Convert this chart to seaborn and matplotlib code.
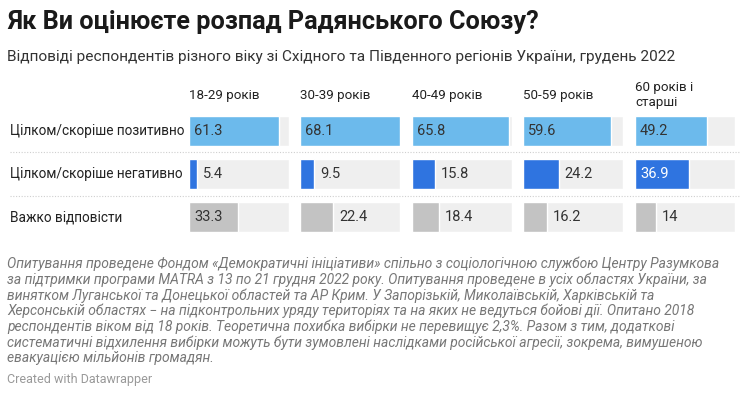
import matplotlib
matplotlib.use("Agg")
import matplotlib.pyplot as plt
from matplotlib.lines import Line2D
import seaborn as sns
import pandas as pd

sns.set_theme(style="white")
plt.rcParams['font.family'] = ['Roboto', 'DejaVu Sans']

# ---- data ----
age_groups = ["18-29 років", "30-39 років", "40-49 років", "50-59 років", "60 років і\nстарші"]
answers = ["Цілком/скоріше позитивно", "Цілком/скоріше негативно", "Важко відповісти"]
positive = [61.3, 68.1, 65.8, 59.6, 49.2]
negative = [5.4, 9.5, 15.8, 24.2, 36.9]
hard = [33.3, 22.4, 18.4, 16.2, 14]
value_labels = [["61.3", "68.1", "65.8", "59.6", "49.2"],
                ["5.4", "9.5", "15.8", "24.2", "36.9"],
                ["33.3", "22.4", "18.4", "16.2", "14"]]

title = "Як Ви оцінюєте розпад Радянського Союзу?"
subtitle = "Відповіді респондентів різного віку зі Східного та Південного регіонів України, грудень 2022"
note_lines = [
    "Опитування проведене Фондом «Демократичні ініціативи» спільно з соціологічною службою Центру Разумкова",
    "за підтримки програми MATRA з 13 по 21 грудня 2022 року. Опитування проведене в усіх областях України, за",
    "винятком Луганської та Донецької областей та АР Крим. У Запорізькій, Миколаївській, Харківській та",
    "Херсонській областях − на підконтрольних уряду територіях та на яких не ведуться бойові дії. Опитано 2018",
    "респондентів віком від 18 років. Теоретична похибка вибірки не перевищує 2,3%. Разом з тим, додаткові",
    "систематичні відхилення вибірки можуть бути зумовлені наслідками російської агресії, зокрема, вимушеною",
    "евакуацією мільйонів громадян.",
]
credit = "Created with Datawrapper"

bar_colors = ["#6cbaec", "#2f74e0", "#c3c3c3"]
label_colors = ["#333333", "#ffffff", "#333333"]
track_color = "#efefef"

W, H = 747, 395
fig = plt.figure(figsize=(W / 100, H / 100), dpi=100)
fig.patch.set_facecolor("white")

def fx(px):
    return px / W

def fy(py):
    return 1 - py / H

fig.text(fx(7), fy(22), title, fontsize=18.2, fontweight="bold", color="#1a1a1a", va="center", ha="left")
fig.text(fx(7), fy(57), subtitle, fontsize=11.1, color="#333333", va="center", ha="left")

col_left = [189, 300, 412, 523, 635]
col_w = 100
ax_top, ax_bot = 109.2, 238.8
row_centers = [130.7, 174.2, 217.2]
maxv = max(positive + negative + hard)

for r, ans in enumerate(answers):
    fig.text(fx(10), fy(row_centers[r]), ans, fontsize=9.8, color="#222222", va="center", ha="left")

series = [positive, negative, hard]
for c, grp in enumerate(age_groups):
    ax = fig.add_axes([fx(col_left[c]), fy(ax_bot), col_w / W, (ax_bot - ax_top) / H])
    df = pd.DataFrame({"answer": answers,
                       "value": [series[r][c] for r in range(3)],
                       "track": [maxv] * 3})
    sns.barplot(data=df, x="track", y="answer", color=track_color, width=0.69,
                orient="h", ax=ax, saturation=1)
    sns.barplot(data=df, x="value", y="answer", hue="answer", palette=bar_colors,
                width=0.69, orient="h", ax=ax, legend=False, saturation=1)
    ax.set_xlim(0, maxv)
    ax.set_ylim(2.5, -0.5)
    ax.axis("off")
    for r in range(3):
        v = series[r][c]
        if v >= 30:
            ax.text(maxv * 5 / col_w, r, value_labels[r][c], va="center", ha="left",
                    fontsize=10.5, color=label_colors[r])
        else:
            ax.text(v + maxv * 6 / col_w, r, value_labels[r][c], va="center", ha="left",
                    fontsize=10.5, color="#333333")
    fig.text(fx(col_left[c]), fy(95), grp, fontsize=9.6, color="#222222",
             va="center", ha="left", linespacing=1.2)

for ysep in [152.3, 195.7]:
    fig.add_artist(Line2D([fx(10), fx(740)], [fy(ysep), fy(ysep)], color="#cfcfcf",
                          linestyle=(0, (1, 1.5)), linewidth=0.8))

for i, line in enumerate(note_lines):
    fig.text(fx(7), fy(264 + i * 15.7), line, fontsize=10.0, style="italic",
             color="#777777", va="center", ha="left")
fig.text(fx(7), fy(380), credit, fontsize=9, color="#999999", va="center", ha="left")

fig.savefig("out.png", dpi=100, facecolor="white")
